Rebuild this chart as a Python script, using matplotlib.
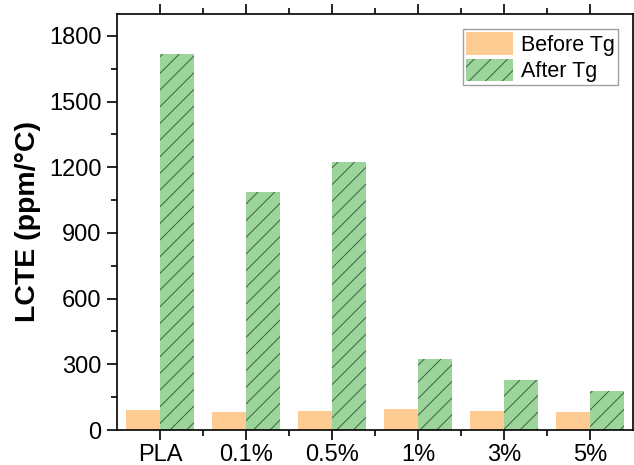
import numpy as np
from matplotlib import pyplot as plt

samples = ['PLA', '0.1%', '0.5%', '1%', '3%', '5%']
before_tg = [90, 81, 88, 98, 89, 83]
after_tg = [1716, 1085, 1224, 325, 227, 177]

plt.rcParams['font.family'] = ['Liberation Sans', 'DejaVu Sans']
plt.rcParams['hatch.linewidth'] = 0.7

fig = plt.figure(figsize=(6.34, 4.65), dpi=100)
ax = fig.add_axes([117 / 634, 35 / 465, 516 / 634, 416 / 465])

x = np.arange(len(samples))
w = 0.4
ax.bar(x - w / 2, before_tg, w, color='#FECB92', linewidth=0, label='Before Tg')
ax.bar(x + w / 2, after_tg, w, color='#9BD59A', edgecolor='#3E5E3E', linewidth=0,
       hatch='//', label='After Tg')

ax.set_xlim(-0.5, len(samples) - 0.5)
ax.set_ylim(0, 1900)
ax.set_xticks(x)
ax.set_xticklabels(samples)
ax.set_xticks(x[:-1] + 0.5, minor=True)
ax.set_yticks(np.arange(0, 1801, 300))
ax.set_yticks(np.arange(150, 1900, 300), minor=True)

for s in ax.spines.values():
    s.set_linewidth(1.2)
ax.tick_params(axis='both', which='both', direction='out', width=1.2, labelsize=17)
ax.tick_params(axis='both', which='major', length=7)
ax.tick_params(axis='both', which='minor', length=4)
ax.tick_params(axis='x', top=True, which='both')
ax.tick_params(axis='x', which='major', pad=3)
ax.tick_params(axis='y', which='major', pad=4)

ax.set_ylabel('LCTE (ppm/°C)', fontsize=20.5, fontweight='bold', labelpad=6)

leg = ax.legend(loc='upper right', fontsize=15.5, fancybox=False, edgecolor='#A0A0A0',
                framealpha=1, handlelength=2.2, handleheight=1.25, handletextpad=0.35,
                labelspacing=0.12, borderpad=0.15, borderaxespad=0.7)
leg.get_frame().set_linewidth(1.0)

fig.savefig('out.png', dpi=100)
